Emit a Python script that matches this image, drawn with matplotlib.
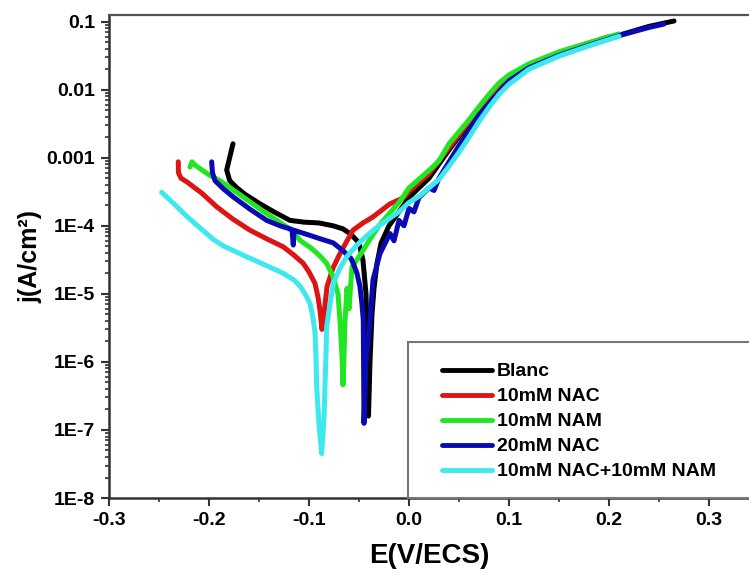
"""
plot.py
───────
Tafel polarisation curves (log j vs E) for the blank and the inhibitor mixtures.
"""

import matplotlib
matplotlib.use("Agg")
import matplotlib.pyplot as plt
from matplotlib.patches import Rectangle
from matplotlib.ticker import FixedLocator, MultipleLocator, LogLocator, NullFormatter

# ── Data ────────────────────────────────────────────────
labels = ["Blanc", "10mM NAC", "10mM NAM", "20mM NAC", "10mM NAC+10mM NAM"]

E_blanc = [-0.176, -0.1823, -0.1793, -0.172, -0.164, -0.149, -0.135, -0.119, -0.105,
           -0.090, -0.076, -0.066, -0.058, -0.050, -0.046, -0.043, -0.041, -0.0405,
           -0.039, -0.037, -0.035, -0.032, -0.028, -0.020, -0.010, 0.000, 0.020,
           0.040, 0.060, 0.080, 0.100, 0.120, 0.150, 0.180, 0.210, 0.240, 0.265]
j_blanc = [1.6e-3, 6.6e-4, 4.6e-4, 3.6e-4, 2.9e-4, 2.1e-4, 1.6e-4, 1.2e-4, 1.13e-4,
           1.1e-4, 1.0e-4, 9.0e-5, 7.5e-5, 5.6e-5, 3.1e-5, 1.0e-5, 1.0e-6, 1.6e-7,
           1.0e-6, 5.0e-6, 1.2e-5, 2.8e-5, 5.5e-5, 1.0e-4, 1.6e-4, 2.6e-4, 5.0e-4,
           1.3e-3, 3.2e-3, 7.5e-3, 1.5e-2, 2.2e-2, 3.3e-2, 4.6e-2, 6.3e-2, 8.5e-2, 1.02e-1]

E_nac10 = [-0.2307, -0.2305, -0.228, -0.222, -0.207, -0.1923, -0.176, -0.159, -0.142,
           -0.1257, -0.115, -0.1057, -0.100, -0.094, -0.091, -0.089,
           -0.087, -0.085, -0.082, -0.076, -0.069, -0.062, -0.056, -0.046, -0.036,
           -0.019, -0.005, 0.000, 0.020, 0.040, 0.060, 0.080, 0.100, 0.150, 0.200]
j_nac10 = [8.7e-4, 6.0e-4, 5.0e-4, 4.4e-4, 3.0e-4, 1.9e-4, 1.25e-4, 8.6e-5, 6.4e-5,
           4.9e-5, 3.7e-5, 2.8e-5, 2.1e-5, 1.42e-5, 9.0e-6, 5.7e-6,
           3.0e-6, 5.0e-6, 1.27e-5, 2.4e-5, 3.9e-5, 6.0e-5, 8.6e-5, 1.1e-4, 1.35e-4,
           2.1e-4, 2.6e-4, 3.2e-4, 5.8e-4, 1.4e-3, 3.4e-3, 8.0e-3, 1.55e-2, 3.5e-2, 6.0e-2]

E_nam10 = [-0.219, -0.217, -0.213, -0.200, -0.189, -0.175, -0.160, -0.145, -0.130,
           -0.116, -0.109, -0.097, -0.089, -0.0823, -0.076, -0.071, -0.069, -0.067,
           -0.066, -0.065, -0.064, -0.062, -0.060, -0.057, -0.050, -0.040, -0.030,
           -0.020, -0.010, 0.000, 0.020, 0.030, 0.040, 0.050, 0.060, 0.070, 0.080,
           0.090, 0.100, 0.120, 0.150, 0.180, 0.210]
j_nam10 = [7.3e-4, 8.7e-4, 7.6e-4, 5.6e-4, 4.6e-4, 3.3e-4, 2.3e-4, 1.6e-4, 1.15e-4,
           8.3e-5, 6.1e-5, 4.6e-5, 3.6e-5, 2.8e-5, 1.8e-5, 1.0e-5, 4.0e-6, 1.2e-6,
           4.6e-7, 1.2e-6, 4.0e-6, 1.2e-5, 6.0e-6, 2.5e-5, 3.5e-5, 6.0e-5, 1.0e-4,
           1.5e-4, 2.2e-4, 3.6e-4, 6.5e-4, 9.0e-4, 1.6e-3, 2.4e-3, 3.6e-3, 5.6e-3, 8.5e-3,
           1.25e-2, 1.65e-2, 2.4e-2, 3.6e-2, 4.9e-2, 6.6e-2]

E_nac20 = [-0.1973, -0.1965, -0.194, -0.1857, -0.1757, -0.159, -0.1423, -0.129, -0.117,
           -0.1157, -0.115, -0.113, -0.100, -0.0883, -0.0757, -0.066, -0.058,
           -0.0557, -0.052, -0.049, -0.047, -0.0457, -0.045, -0.043, -0.039, -0.036,
           -0.029, -0.019, -0.015, -0.010, -0.005, 0.000, 0.005, 0.010, 0.020, 0.025,
           0.030, 0.050, 0.070, 0.100, 0.120, 0.150, 0.180, 0.210, 0.240, 0.255]
j_nac20 = [8.7e-4, 6.0e-4, 4.6e-4, 3.5e-4, 2.65e-4, 1.75e-4, 1.2e-4, 1.0e-4,
           8.8e-5, 5.2e-5, 8.6e-5, 8.4e-5, 7.3e-5, 6.4e-5, 5.6e-5, 4.3e-5, 3.3e-5,
           2.8e-5, 2.0e-5, 1.27e-5, 7.0e-6, 4.1e-6, 1.25e-7, 1.0e-6, 4.1e-6, 1.6e-5,
           3.9e-5, 7.7e-5, 6.0e-5, 1.2e-4, 1.0e-4, 1.8e-4, 1.6e-4, 2.6e-4, 3.6e-4, 3.3e-4,
           5.0e-4, 1.5e-3, 4.2e-3, 1.35e-2, 2.1e-2, 3.2e-2, 4.5e-2, 6.2e-2, 8.2e-2, 9.2e-2]

E_mix = [-0.2473, -0.235, -0.2223, -0.209, -0.1957, -0.185, -0.1623, -0.145, -0.1257,
         -0.115, -0.109, -0.104, -0.099, -0.096, -0.094, -0.093, -0.0923, -0.090,
         -0.0873, -0.085, -0.084, -0.083, -0.0823, -0.079, -0.0757, -0.069, -0.0623,
         -0.052, -0.0423, -0.032, -0.0223, -0.010, 0.000, 0.010, 0.020, 0.030, 0.040,
         0.050, 0.060, 0.070, 0.080, 0.090, 0.100, 0.120, 0.150, 0.180, 0.210]
j_mix = [3.1e-4, 2.1e-4, 1.38e-4, 9.3e-5, 6.3e-5, 5.0e-5, 3.5e-5, 2.7e-5, 2.0e-5,
         1.6e-5, 1.3e-5, 1.0e-5, 7.2e-6, 4.5e-6, 2.7e-6, 1.2e-6, 4.3e-7, 1.2e-7,
         4.5e-8, 1.5e-7, 4.3e-7, 1.3e-6, 3.3e-6, 7.0e-6, 1.42e-5, 2.4e-5, 3.5e-5,
         5.2e-5, 7.1e-5, 9.5e-5, 1.2e-4, 1.6e-4, 2.2e-4, 2.7e-4, 3.6e-4, 4.8e-4, 7.5e-4,
         1.2e-3, 2.0e-3, 3.4e-3, 5.5e-3, 8.5e-3, 1.2e-2, 2.0e-2, 3.1e-2, 4.4e-2, 6.1e-2]

x_ticks = [-0.3, -0.2, -0.1, 0.0, 0.1, 0.2, 0.3]
x_tick_labels = ["-0.3", "-0.2", "-0.1", "0.0", "0.1", "0.2", "0.3"]
y_ticks = [1e-8, 1e-7, 1e-6, 1e-5, 1e-4, 1e-3, 1e-2, 1e-1]
y_tick_labels = ["1E-8", "1E-7", "1E-6", "1E-5", "1E-4", "0.001", "0.01", "0.1"]

series = [(E_blanc, j_blanc), (E_nac10, j_nac10), (E_nam10, j_nam10),
          (E_nac20, j_nac20), (E_mix, j_mix)]
colors = ["#000000", "#dc1414", "#22e622", "#0a0ab4", "#3ee8ee"]

plt.rcParams["font.family"] = ["Liberation Sans", "DejaVu Sans"]
plt.rcParams["font.weight"] = "bold"

fig = plt.figure(figsize=(7.49, 5.74), dpi=100, facecolor="white")
ax = fig.add_axes([0.1455, 0.1324, 0.8545, 0.8415])

# ── Curves ──────────────────────────────────────────────
for (E, j), c, lab in zip(series, colors, labels):
    ax.plot(E, j, color=c, linewidth=3.6, label=lab, solid_joinstyle="round",
            solid_capstyle="round")

ax.set_yscale("log")
ax.set_xlim(-0.3, 0.34)
ax.set_ylim(1e-8, 0.125)

# ── Axes styling ────────────────────────────────────────
ax.xaxis.set_major_locator(FixedLocator(x_ticks))
ax.set_xticklabels(x_tick_labels)
ax.xaxis.set_minor_locator(MultipleLocator(0.05))
ax.set_yticks(y_ticks)
ax.set_yticklabels(y_tick_labels)
ax.yaxis.set_minor_locator(LogLocator(base=10, subs=range(2, 10), numticks=20))
ax.yaxis.set_minor_formatter(NullFormatter())

ax.tick_params(which="major", direction="out", length=6, width=1.5,
               color="#333333", labelsize=14, pad=4)
ax.tick_params(which="minor", direction="out", length=3, width=1.2, color="#333333")

ax.spines["left"].set_color("#333333")
ax.spines["left"].set_linewidth(1.8)
ax.spines["bottom"].set_color("#333333")
ax.spines["bottom"].set_linewidth(1.8)
ax.spines["top"].set_color("#555555")
ax.spines["top"].set_linewidth(1.6)
ax.spines["right"].set_visible(False)

ax.set_xlabel("E(V/ECS)", fontsize=20, fontweight="bold", labelpad=10)
ax.set_ylabel("j(A/cm²)", fontsize=18, fontweight="bold", labelpad=3)

# ── Legend box (runs past the right edge) ───────────────
box = Rectangle((0.467, 0.0), 0.6, 0.323, transform=ax.transAxes,
                facecolor="white", edgecolor="#777777", linewidth=1.5,
                zorder=4, clip_on=False)
ax.add_patch(box)
leg = ax.legend(loc="upper left", bbox_to_anchor=(0.52, 0.280), frameon=False,
                fontsize=14, handlelength=2.6, handletextpad=0.25,
                labelspacing=0.38, borderpad=0, borderaxespad=0)
leg.set_zorder(5)
for line in leg.get_lines():
    line.set_linewidth(3.5)

fig.savefig("out.png", dpi=100, facecolor=fig.get_facecolor())
